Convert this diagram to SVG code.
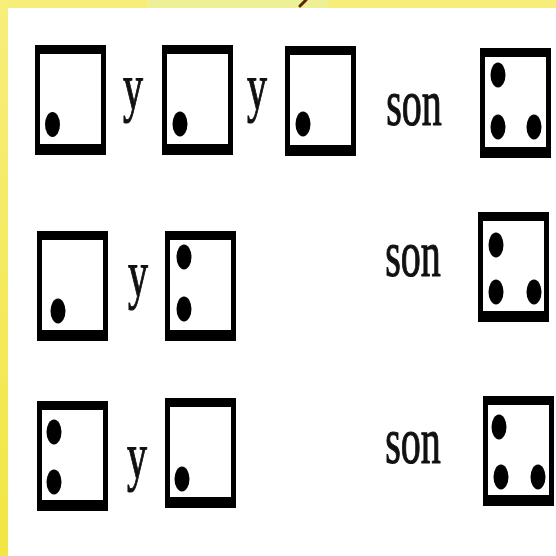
<svg xmlns="http://www.w3.org/2000/svg" width="556" height="556" viewBox="0 0 556 556">
  <defs>
    <linearGradient id="leftband" x1="0" y1="0" x2="0" y2="1">
      <stop offset="0" stop-color="#F7EE7C"/>
      <stop offset="1" stop-color="#F2E643"/>
    </linearGradient>
    <path id="frame" d="M0,0 H71 V110 H0 Z M5,9 V99 H66 V9 Z" fill="#000" fill-rule="evenodd"/>
    <style>
      .dot { fill: #000; }
      .t { font-family: "Liberation Serif", "Times New Roman", serif; font-size: 40px; fill: #111; stroke: #111; stroke-width: 0.7px; text-anchor: middle; }
    </style>
  </defs>
  <rect x="0" y="0" width="556" height="556" fill="#fff"/>
  <rect x="0" y="0" width="556" height="8" fill="#F7EE7A"/>
  <rect x="147" y="0" width="181" height="8" fill="#EDF096"/>
  <rect x="0" y="0" width="8" height="556" fill="url(#leftband)"/>
  <line x1="300" y1="6" x2="306" y2="0" stroke="#5a2a00" stroke-width="3" stroke-linecap="round"/>

  <!-- Row 1 -->
  <g id="a1"><use href="#frame" transform="translate(35,45)"/><ellipse class="dot" cx="52.5" cy="124.5" rx="7.5" ry="12.5"/></g>
  <g id="a2"><use href="#frame" transform="translate(162,45)"/><ellipse class="dot" cx="180" cy="124" rx="7.5" ry="12.5"/></g>
  <g id="a3"><use href="#frame" transform="translate(285,46)"/><ellipse class="dot" cx="303" cy="124" rx="7.5" ry="12.5"/></g>
  <g id="a4"><use href="#frame" transform="translate(480,48)"/>
    <ellipse class="dot" cx="498" cy="75" rx="7.5" ry="12.5"/>
    <ellipse class="dot" cx="498" cy="127" rx="7.5" ry="12.5"/>
    <ellipse class="dot" cx="534" cy="127" rx="7.5" ry="12.5"/></g>
  <g id="a-y1"><text class="t" transform="translate(133,109) scale(1,1.65)">y</text></g>
  <g id="a-y2"><text class="t" transform="translate(257,109) scale(1,1.65)">y</text></g>
  <g id="a-son"><text class="t" transform="translate(414,125) scale(1,1.65)">son</text></g>

  <!-- Row 2 -->
  <g id="b1"><use href="#frame" transform="translate(37,231)"/><ellipse class="dot" cx="58" cy="311" rx="7.5" ry="12.5"/></g>
  <g id="b2"><use href="#frame" transform="translate(165,231)"/>
    <ellipse class="dot" cx="184" cy="257" rx="7.5" ry="12.5"/>
    <ellipse class="dot" cx="184" cy="309" rx="7.5" ry="12.5"/></g>
  <g id="b4"><use href="#frame" transform="translate(478,212)"/>
    <ellipse class="dot" cx="496" cy="245" rx="7.5" ry="12.5"/>
    <ellipse class="dot" cx="496" cy="292" rx="7.5" ry="12.5"/>
    <ellipse class="dot" cx="534" cy="292" rx="7.5" ry="12.5"/></g>
  <g id="b-y"><text class="t" transform="translate(138,296) scale(1,1.65)">y</text></g>
  <g id="b-son"><text class="t" transform="translate(413,276) scale(1,1.65)">son</text></g>

  <!-- Row 3 -->
  <g id="c1"><use href="#frame" transform="translate(37,401)"/>
    <ellipse class="dot" cx="54" cy="432" rx="7.5" ry="12.5"/>
    <ellipse class="dot" cx="54" cy="482" rx="7.5" ry="12.5"/></g>
  <g id="c2"><use href="#frame" transform="translate(165,398)"/><ellipse class="dot" cx="182" cy="479" rx="7.5" ry="12.5"/></g>
  <g id="c4"><use href="#frame" transform="translate(483,396)"/>
    <ellipse class="dot" cx="499" cy="427" rx="7.5" ry="12.5"/>
    <ellipse class="dot" cx="501" cy="477" rx="7.5" ry="12.5"/>
    <ellipse class="dot" cx="538" cy="477" rx="7.5" ry="12.5"/></g>
  <g id="c-y"><text class="t" transform="translate(137,478) scale(1,1.65)">y</text></g>
  <g id="c-son"><text class="t" transform="translate(413,463) scale(1,1.65)">son</text></g>
</svg>
